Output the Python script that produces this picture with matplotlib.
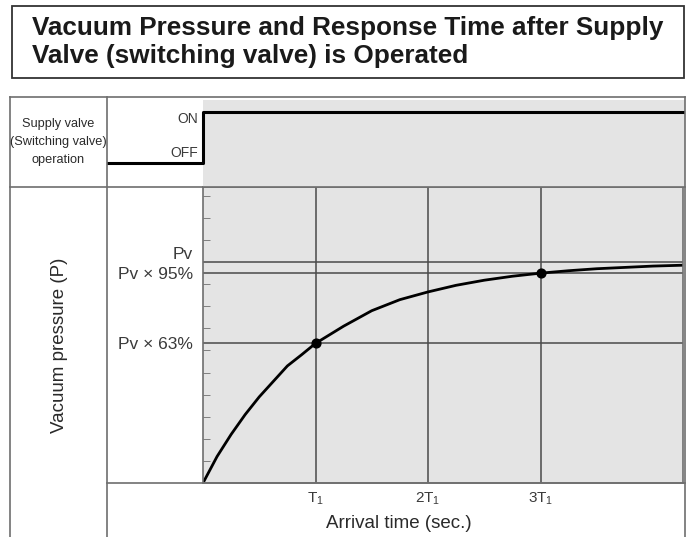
import matplotlib
matplotlib.use("Agg")
import matplotlib.pyplot as plt
from matplotlib.lines import Line2D
from matplotlib.patches import Rectangle

W, H = 689, 537

# valve operation (time in units of T1, state 0=OFF 1=ON)
valve_t = [-0.86, 0.0, 4.3]
valve_state = [0, 1, 1]

# vacuum pressure as a fraction of Pv, read every 0.125-0.25 T1
time_t = [0.0, 0.125, 0.25, 0.375, 0.5, 0.625, 0.75, 0.875, 1.0, 1.25, 1.5,
          1.75, 2.0, 2.25, 2.5, 2.75, 3.0, 3.25, 3.5, 3.75, 4.0, 4.27]
pressure = [0.0, 0.12, 0.22, 0.31, 0.39, 0.46, 0.53, 0.58, 0.632, 0.71, 0.78,
            0.83, 0.865, 0.895, 0.918, 0.936, 0.95, 0.961, 0.97, 0.976, 0.982, 0.986]

# marked points and reference levels
mark_t = [1, 3]
mark_p = [0.632, 0.95]
levels = [1.0, 0.95, 0.632]
level_labels = ["Pv", "Pv \u00d7 95%", "Pv \u00d7 63%"]
time_ticks = [1, 2, 3]
time_labels = ["T$_\\mathregular{1}$", "2T$_\\mathregular{1}$", "3T$_\\mathregular{1}$"]

plt.rcParams['font.family'] = ['Liberation Sans', 'DejaVu Sans']

GRAY = "#e4e4e4"
LINE = "#4a4a4a"
BORDER = "#6e6e6e"
TXT = "#2a2a2a"


def fx(x):
    return x / W


def fy(y):
    return 1 - y / H


def rect(l, t, r, b):
    return [fx(l), fy(b), fx(r) - fx(l), fy(t) - fy(b)]


fig = plt.figure(figsize=(W / 100, H / 100), dpi=100)

# title box
fig.patches.append(Rectangle((fx(12), fy(78)), fx(684) - fx(12), fy(6) - fy(78),
                             transform=fig.transFigure, fill=False,
                             edgecolor="#333333", lw=1.3))
fig.text(fx(32), fy(42), "Vacuum Pressure and Response Time after Supply\nValve (switching valve) is Operated",
         fontsize=18.8, fontweight="bold", color="#1a1a1a", va="center", ha="left",
         linespacing=1.22)

# pressure panel
ax = fig.add_axes(rect(203, 187, 683, 483))
ax.set_facecolor(GRAY)
ax.plot(time_t, pressure, color="black", lw=2)
ax.scatter(mark_t, mark_p, s=40, color="black", zorder=5)
for lv in levels:
    ax.axhline(lv, color=LINE, lw=1.1, zorder=1)
for t in time_ticks:
    ax.axvline(t, color=LINE, lw=1.1, zorder=1)
ax.set_xlim(0, 480 / 112.5)
ax.set_ylim(0, 1.34)
ax.set_xticks(time_ticks)
ax.set_xticklabels(time_labels, fontsize=11, color="#3a3a3a")
ax.set_yticks(levels)
ax.set_yticklabels(level_labels, fontsize=12.5, color="#3a3a3a")
ax.get_yticklabels()[0].set_va("bottom")
ax.set_yticks([i / 10 for i in range(1, 14)], minor=True)
ax.tick_params(axis="y", which="minor", direction="in", length=5, color=BORDER)
ax.tick_params(axis="x", which="major", length=0, pad=5)
ax.tick_params(axis="y", which="major", length=0, pad=7)
for s in ax.spines.values():
    s.set_color(BORDER)
    s.set_linewidth(1.2)

# valve operation panel
ax2 = fig.add_axes(rect(107, 97, 685, 187))
ax2.set_xlim(-96 / 112.5, 482 / 112.5)
ax2.set_ylim(-0.47, 1.29)
ax2.axvspan(0, 482 / 112.5, ymax=0.97, color=GRAY, lw=0)
ax2.plot(valve_t, valve_state, drawstyle="steps-post", color="black", lw=2.2)
ax2.text(-0.04, 0.86, "ON", ha="right", va="center", fontsize=10, color="#3a3a3a")
ax2.text(-0.04, 0.2, "OFF", ha="right", va="center", fontsize=10, color="#3a3a3a")
ax2.axis("off")

# table borders
segs = [
    ((10, 97), (685, 97)),
    ((10, 97), (10, 537)),
    ((107, 97), (107, 537)),
    ((685, 97), (685, 537)),
    ((10, 187), (685, 187)),
    ((107, 483), (685, 483)),
]
for (x0, y0), (x1, y1) in segs:
    fig.add_artist(Line2D([fx(x0), fx(x1)], [fy(y0), fy(y1)], transform=fig.transFigure,
                          color=BORDER, lw=1.2))

fig.text(fx(58), fy(142), "Supply valve\n(Switching valve)\noperation", ha="center", va="center",
         fontsize=9.2, color=TXT, linespacing=1.7,
         family=['Liberation Sans Narrow', 'Liberation Sans', 'DejaVu Sans'])
fig.text(fx(60), fy(345), "Vacuum pressure (P)", rotation=90, ha="center", va="center",
         fontsize=13.5, color=TXT)
fig.text(fx(399), fy(523), "Arrival time (sec.)", ha="center", va="center",
         fontsize=13.5, color=TXT)

fig.savefig("out.png", dpi=100)
